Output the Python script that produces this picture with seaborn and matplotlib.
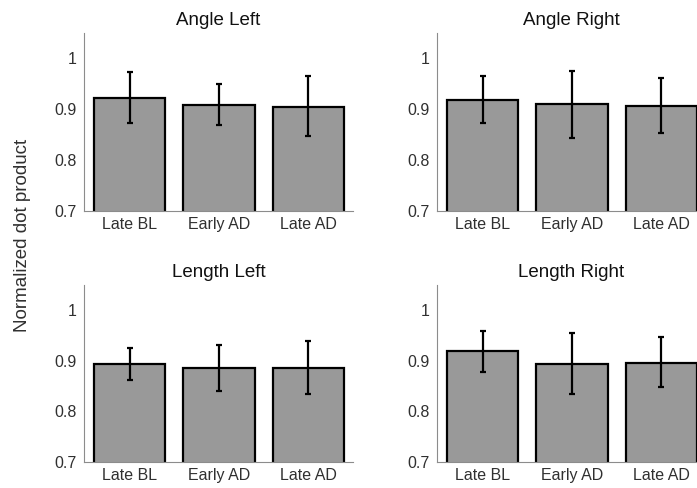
import seaborn as sns
import matplotlib.pyplot as plt
import numpy as np
import pandas as pd

conditions = ["Late BL", "Early AD", "Late AD"]
panels = ["Angle Left", "Angle Right", "Length Left", "Length Right"]

# bar heights (mean normalized dot product)
angle_left = [0.923, 0.908, 0.905]
angle_right = [0.919, 0.910, 0.907]
length_left = [0.893, 0.886, 0.886]
length_right = [0.919, 0.894, 0.896]

# error bar ends
angle_left_lo = [0.874, 0.869, 0.848]
angle_left_hi = [0.974, 0.950, 0.965]
angle_right_lo = [0.873, 0.843, 0.853]
angle_right_hi = [0.966, 0.976, 0.962]
length_left_lo = [0.863, 0.840, 0.835]
length_left_hi = [0.925, 0.931, 0.939]
length_right_lo = [0.878, 0.834, 0.848]
length_right_hi = [0.960, 0.956, 0.947]

means = [angle_left, angle_right, length_left, length_right]
lows = [angle_left_lo, angle_right_lo, length_left_lo, length_right_lo]
highs = [angle_left_hi, angle_right_hi, length_left_hi, length_right_hi]

sns.set_style('white')
plt.rcParams['font.family'] = ['Liberation Sans', 'DejaVu Sans']

fig = plt.figure(figsize=(6.97, 4.88), dpi=100)

# axes boxes [left, bottom, width, height] in figure fraction
boxes = [
    [0.1205, 0.5676, 0.386, 0.3648],
    [0.627, 0.5676, 0.386, 0.3648],
    [0.1205, 0.0533, 0.386, 0.3627],
    [0.627, 0.0533, 0.386, 0.3627],
]

axis_grey = '#8c8c8c'
text_col = '#303030'

for i, name in enumerate(panels):
    ax = fig.add_axes(boxes[i])
    df = pd.DataFrame({'cond': conditions, 'val': means[i]})
    sns.barplot(data=df, x='cond', y='val', ax=ax, color='#999999',
                saturation=1, edgecolor='black', linewidth=1.6, width=0.8,
                errorbar=None)
    m = np.array(means[i])
    yerr = [m - np.array(lows[i]), np.array(highs[i]) - m]
    ax.errorbar(np.arange(3), m, yerr=yerr, fmt='none', ecolor='black',
                elinewidth=1.6, capsize=2, capthick=1.6)
    ax.set_ylim(0.7, 1.05)
    ax.set_xlim(-0.51, 2.5)
    ax.set_yticks([0.7, 0.8, 0.9, 1.0])
    ax.set_yticklabels(['0.7', '0.8', '0.9', '1'])
    ax.set_xlabel('')
    ax.set_ylabel('')
    ax.set_title(name, fontsize=13.5, color='#111111', pad=6)
    ax.tick_params(axis='y', direction='in', length=3, width=0.8,
                   color=axis_grey, labelsize=11.5, labelcolor=text_col, pad=5)
    ax.tick_params(axis='x', length=0, labelsize=11.5, labelcolor=text_col, pad=4)
    for s in ['top', 'right']:
        ax.spines[s].set_visible(False)
    for s in ['left', 'bottom']:
        ax.spines[s].set_color(axis_grey)
        ax.spines[s].set_linewidth(0.8)

fig.text(0.032, 0.518, 'Normalized dot product', rotation=90, va='center',
         ha='center', fontsize=13.5, color=text_col)

fig.savefig('out.png', dpi=100)
